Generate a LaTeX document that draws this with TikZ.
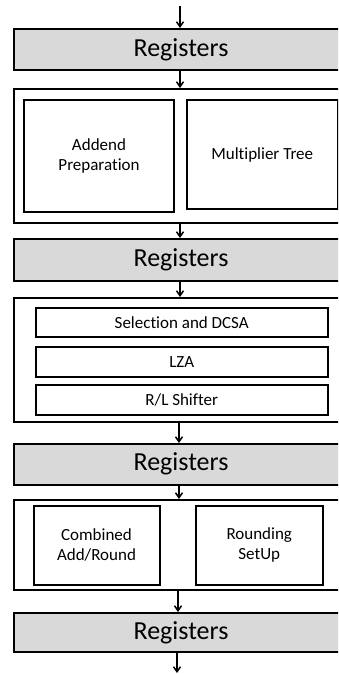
\documentclass[tikz,border=0pt]{standalone}
\usepackage{fontspec}
\setmainfont{Carlito}[Ligatures=NoCommon]
\usetikzlibrary{arrows.meta}
\definecolor{reggray}{HTML}{D9D9D9}
\tikzset{
  box/.style={draw=black, line width=2pt, rectangle, anchor=north west, inner sep=0pt, align=center},
  regbox/.style={box, fill=reggray, font=\fontsize{26}{30}\selectfont},
  stagebox/.style={box, fill=white},
  unitbox/.style={box, fill=white, font=\fontsize{17}{19.5}\selectfont},
  flow/.style={draw=black, line width=1.5pt, -{Straight Barb[length=5pt, width=7pt, line width=1.5pt]}}
}
\begin{document}
\begin{tikzpicture}[x=1pt, y=-1pt]
  \useasboundingbox (0,0) rectangle (338,674);
  \clip (0,0) rectangle (338,674);
  \fill[white] (0,0) rectangle (338,674);

  % pipeline register stages and the logic between them
  \node[regbox, minimum width=334pt, minimum height=41.5pt] (r1) at (13,28) {Registers};
  \node[stagebox, minimum width=334pt, minimum height=133.5pt] (s1) at (13,88) {};
  \node[unitbox, minimum width=150pt, minimum height=111pt] (addend) at (23,99.5) {Addend\\Preparation};
  \node[unitbox, minimum width=150.5pt, minimum height=108pt] (mult) at (186,99.5) {Multiplier Tree};

  \node[regbox, minimum width=334pt, minimum height=41.5pt] (r2) at (13,238) {Registers};
  \node[stagebox, minimum width=334pt, minimum height=123.5pt] (s2) at (13,297) {};
  \node[unitbox, minimum width=291.5pt, minimum height=29.5pt] (dcsa) at (35,306.5) {Selection and DCSA};
  \node[unitbox, minimum width=291.5pt, minimum height=29.5pt] (lza) at (35,346) {LZA};
  \node[unitbox, minimum width=291.5pt, minimum height=29.5pt] (shift) at (35,384) {R/L Shifter};

  \node[regbox, minimum width=334pt, minimum height=40.5pt] (r3) at (13,443) {Registers};
  \node[stagebox, minimum width=334pt, minimum height=90pt] (s3) at (13,499) {};
  \node[unitbox, minimum width=126pt, minimum height=79pt] (addround) at (32.5,504.5) {Combined\\Add/Round};
  \node[unitbox, minimum width=126.5pt, minimum height=79pt] (roundsetup) at (195,504.5) {Rounding\\SetUp};

  \node[regbox, minimum width=334pt, minimum height=39pt] (r4) at (13,612) {Registers};

  % data flow
  \coordinate (in) at (180,6);
  \coordinate (out) at (177,673);
  \draw[flow] (in) -- (in |- r1.north);
  \draw[flow] (180,69.5) -- (180,88);
  \draw[flow] (180,221.5) -- (180,238);
  \draw[flow] (180,279.5) -- (180,297);
  \draw[flow] (179,420.5) -- (179,443);
  \draw[flow] (179,483.5) -- (179,499);
  \draw[flow] (178,589) -- (178,612);
  \draw[flow] (out |- r4.south) -- (out);
\end{tikzpicture}
\end{document}
